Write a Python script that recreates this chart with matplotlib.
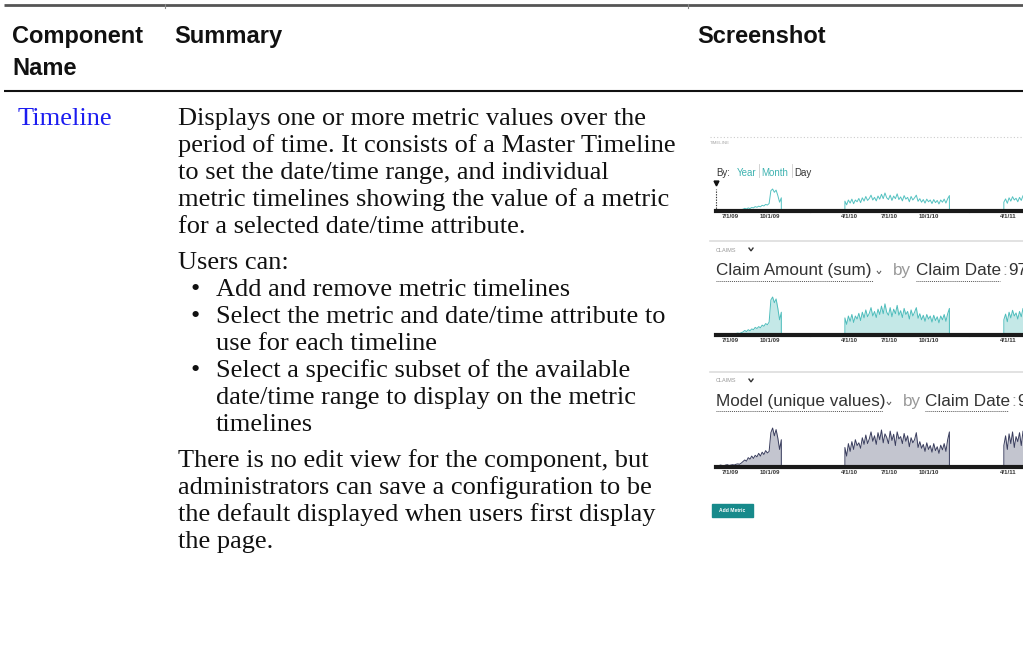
import matplotlib.pyplot as plt
import pandas as pd

# ==================== データ ====================
tick_dates = ['2009-07-01', '2009-10-01', '2010-04-01', '2010-07-01', '2010-10-01', '2011-04-01']
tick_labels = ['7/1/09', '10/1/09', '4/1/10', '7/1/10', '10/1/10', '4/1/11']
year_marks = ['2010-01-01', '2011-01-01']
seg_starts = ['2009-06-01', '2010-03-22', '2011-03-22']

# Claim Amount (sum) - master timeline uses the same metric
amount_seg1 = [3, 2, 4, 3, 2, 3, 4, 2, 3, 4, 3, 4, 5, 4, 6,
               8, 12, 9, 14, 11, 16, 14, 20, 17, 22, 19, 26, 23, 30, 27,
               34, 92, 100, 85, 95, 70, 40, 60]
amount_seg2 = [45, 28, 50, 36, 54, 33, 50, 42, 57, 38, 60, 45, 66, 48, 57, 72, 50, 62, 46, 68,
               54, 76, 56, 82, 60, 52, 72, 48, 68, 56, 78, 52, 64, 46, 70, 54, 62, 42, 66, 50,
               60, 72, 44, 56, 40, 52, 36, 54, 42, 50, 34, 52, 38, 48, 32, 50, 40, 54, 36, 56, 70]
amount_seg3 = [40, 55, 35, 60, 45, 65, 50, 58, 42, 62, 48, 70, 52, 60]

# Model (unique values)
model_seg1 = [4, 3, 5, 4, 3, 5, 6, 4, 5, 6, 5, 7, 8, 7, 10,
              14, 18, 15, 24, 20, 28, 22, 30, 26, 35, 28, 38, 32, 42, 36,
              40, 88, 100, 80, 96, 74, 45, 70]
model_seg2 = [50, 28, 60, 40, 65, 45, 70, 55, 62, 48, 75, 58, 82, 60, 72, 90, 66, 80, 58, 88,
              70, 95, 62, 85, 76, 60, 92, 68, 84, 55, 90, 72, 78, 60, 86, 66, 80, 52, 75, 62,
              70, 88, 50, 65, 48, 58, 40, 62, 45, 55, 38, 60, 42, 52, 35, 56, 44, 60, 40, 70, 90]
model_seg3 = [55, 80, 45, 85, 60, 90, 50, 78, 65, 88, 55, 92, 60, 80]

summary_para1 = ['Displays one or more metric values over the',
                 'period of time. It consists of a Master Timeline',
                 'to set the date/time range, and individual',
                 'metric timelines showing the value of a metric',
                 'for a selected date/time attribute.']
bullets = [['Add and remove metric timelines'],
           ['Select the metric and date/time attribute to', 'use for each timeline'],
           ['Select a specific subset of the available',
            'date/time range to display on the metric', 'timelines']]
summary_para2 = ['There is no edit view for the component, but',
                 'administrators can save a configuration to be',
                 'the default displayed when users first display',
                 'the page.']

# ==================== 描画 ====================
W, H = 1023, 650
fig = plt.figure(figsize=(W / 100, H / 100), dpi=100)
base = fig.add_axes([0, 0, 1, 1])
base.set_xlim(0, W)
base.set_ylim(H, 0)
base.axis('off')

SANS = 'Liberation Sans'
SERIF = 'Liberation Serif'

# 表の罫線
base.plot([4, W], [5, 5], color='#555555', lw=2, solid_capstyle='butt')
base.plot([4, W], [91, 91], color='#111111', lw=1.5, solid_capstyle='butt')
for cx in [165, 688]:
    base.plot([cx, cx], [4, 8], color='#888888', lw=0.8)

# ヘッダー
hdr = dict(family=SANS, fontsize=17, fontweight='bold', color='#111111', va='baseline')
base.text(12, 43, 'Component', **hdr)
base.text(12, 75, 'Name', **hdr)
base.text(174, 43, 'Summary', **hdr)
base.text(697, 43, 'Screenshot', **hdr)

# 本文
body = dict(family=SERIF, fontsize=19, color='#111111', va='baseline')
base.text(18, 125, 'Timeline', family=SERIF, fontsize=19, color='#1c1cf0', va='baseline')
y = 125
for line in summary_para1:
    base.text(178, y, line, **body)
    y += 27
y += 9
base.text(178, y, 'Users can:', **body)
y += 27
for item in bullets:
    base.text(191, y, '\u2022', **body)
    for line in item:
        base.text(216, y, line, **body)
        y += 27
y += 9
for line in summary_para2:
    base.text(178, y, line, **body)
    y += 27

# ==================== スクリーンショット部分 ====================
x_left = pd.Timestamp('2009-05-30')
x_right = pd.Timestamp('2011-05-05')
teal = '#3fb3b1'


def px_axes(x0, y_top, x1, y_bot):
    return fig.add_axes([x0 / W, 1 - y_bot / H, (x1 - x0) / W, (y_bot - y_top) / H])


def segment(start, vals):
    dates = list(pd.date_range(start, periods=len(vals), freq='4D'))
    return [dates[0]] + dates + [dates[-1]], [0] + vals + [0]


def chevron(x, y, size, lw, color):
    base.plot([x - size, x, x + size], [y - size * 0.7, y + size * 0.7, y - size * 0.7],
              color=color, lw=lw, solid_joinstyle='miter')


def style_axis(ax):
    ax.set_xlim(x_left, x_right)
    ax.set_ylim(0, 105)
    for s in ['top', 'left', 'right']:
        ax.spines[s].set_visible(False)
    ax.spines['bottom'].set_linewidth(3)
    ax.spines['bottom'].set_color('#1a1a1a')
    ax.set_yticks([])
    ax.set_xticks([pd.Timestamp(d) for d in tick_dates])
    ax.set_xticklabels(tick_labels)
    ax.tick_params(axis='x', length=0, pad=2.5, labelsize=4.4, labelcolor='#333333')
    for lab in ax.get_xticklabels():
        lab.set_fontweight('bold')
        lab.set_family(SANS)
    for d in year_marks:
        ax.axvline(pd.Timestamp(d), ymin=-0.03, ymax=0.03, color='#dddddd', lw=1, clip_on=False)
    ax.patch.set_alpha(0)


amount_segs = [amount_seg1, amount_seg2, amount_seg3]
model_segs = [model_seg1, model_seg2, model_seg3]

# Master timeline
base.plot([710, W], [137, 137], color='#cccccc', lw=0.8, ls=(0, (1, 2)))
base.text(710, 143, 'TIMELINE', family=SANS, fontsize=3.2, color='#aaaaaa', va='center')
ui = dict(family=SANS, fontsize=7, va='baseline')
base.text(716, 175.5, 'By:', color='#333333', **ui)
base.text(737, 175.5, 'Year', color=teal, **ui)
base.text(761, 175.5, 'Month', color=teal, **ui)
base.text(794, 175.5, 'Day', color='#333333', **ui)
for sx in [758.5, 791.5]:
    base.plot([sx, sx], [164, 177], color='#cccccc', lw=0.6)

ax_m = px_axes(716, 211 - 22 * 1.05, W, 211)
for start, vals in zip(seg_starts, amount_segs):
    xs, ys = segment(start, vals)
    ax_m.plot(xs, ys, color='#55c2c1', lw=0.7)
style_axis(ax_m)
ax_m.plot([x_left, x_left], [0, 100], color='#333333', lw=0.8, ls=(0, (1.2, 1.2)), clip_on=False)
ax_m.plot([x_left], [128], marker='v', color='#111111', ms=3.5, clip_on=False)

# Metric timeline 1
base.plot([710, W], [241, 241], color='#dddddd', lw=1.2)
base.text(716, 250, 'CLAIMS', family=SANS, fontsize=4, color='#999999', va='center')
chevron(751, 249.5, 2, 1.0, '#333333')
ttl = dict(family=SANS, fontsize=12.3, va='baseline')
base.text(716, 275, 'Claim Amount (sum)', color='#333333', **ttl)
chevron(879, 272.5, 1.8, 0.7, '#555555')
base.text(893, 275, 'by', color='#999999', **ttl)
base.text(916, 275, 'Claim Date', color='#333333', **ttl)
base.text(1002, 275, ':', color='#999999', **ttl)
base.text(1008, 275, '97', color='#333333', **ttl)
for u0, u1 in [(716, 873), (916, 1000)]:
    base.plot([u0, u1], [281, 281], color='#555555', lw=0.7, ls=(0, (1, 1)))

ax_a = px_axes(716, 335 - 38 * 1.05, W, 335)
for start, vals in zip(seg_starts, amount_segs):
    xs, ys = segment(start, vals)
    ax_a.fill_between(xs, ys, color='#c4e8e7', lw=0)
    ax_a.plot(xs, ys, color='#4fbdbc', lw=0.7)
style_axis(ax_a)

# Metric timeline 2
base.plot([710, W], [372, 372], color='#dddddd', lw=1.2)
base.text(716, 381, 'CLAIMS', family=SANS, fontsize=4, color='#999999', va='center')
chevron(751, 380.5, 2, 1.0, '#333333')
base.text(716, 406, 'Model (unique values)', color='#333333', **ttl)
chevron(889, 403.5, 1.8, 0.7, '#555555')
base.text(903, 406, 'by', color='#999999', **ttl)
base.text(925, 406, 'Claim Date', color='#333333', **ttl)
base.text(1011, 406, ':', color='#999999', **ttl)
base.text(1017, 406, '9', color='#333333', **ttl)
for u0, u1 in [(716, 883), (925, 1008)]:
    base.plot([u0, u1], [411, 411], color='#555555', lw=0.7, ls=(0, (1, 1)))

ax_u = px_axes(716, 467 - 39 * 1.05, W, 467)
for start, vals in zip(seg_starts, model_segs):
    xs, ys = segment(start, vals)
    ax_u.fill_between(xs, ys, color='#c3c5cf', lw=0)
    ax_u.plot(xs, ys, color='#3a3e5e', lw=0.7)
style_axis(ax_u)

# Add Metric ボタン
base.add_patch(plt.Rectangle((712, 504), 41, 13, color='#178a8b'))
base.text(732.5, 510.5, 'Add Metric', family=SANS, fontsize=3.6, color='white',
          fontweight='bold', ha='center', va='center')

fig.savefig('out.png', dpi=100)
